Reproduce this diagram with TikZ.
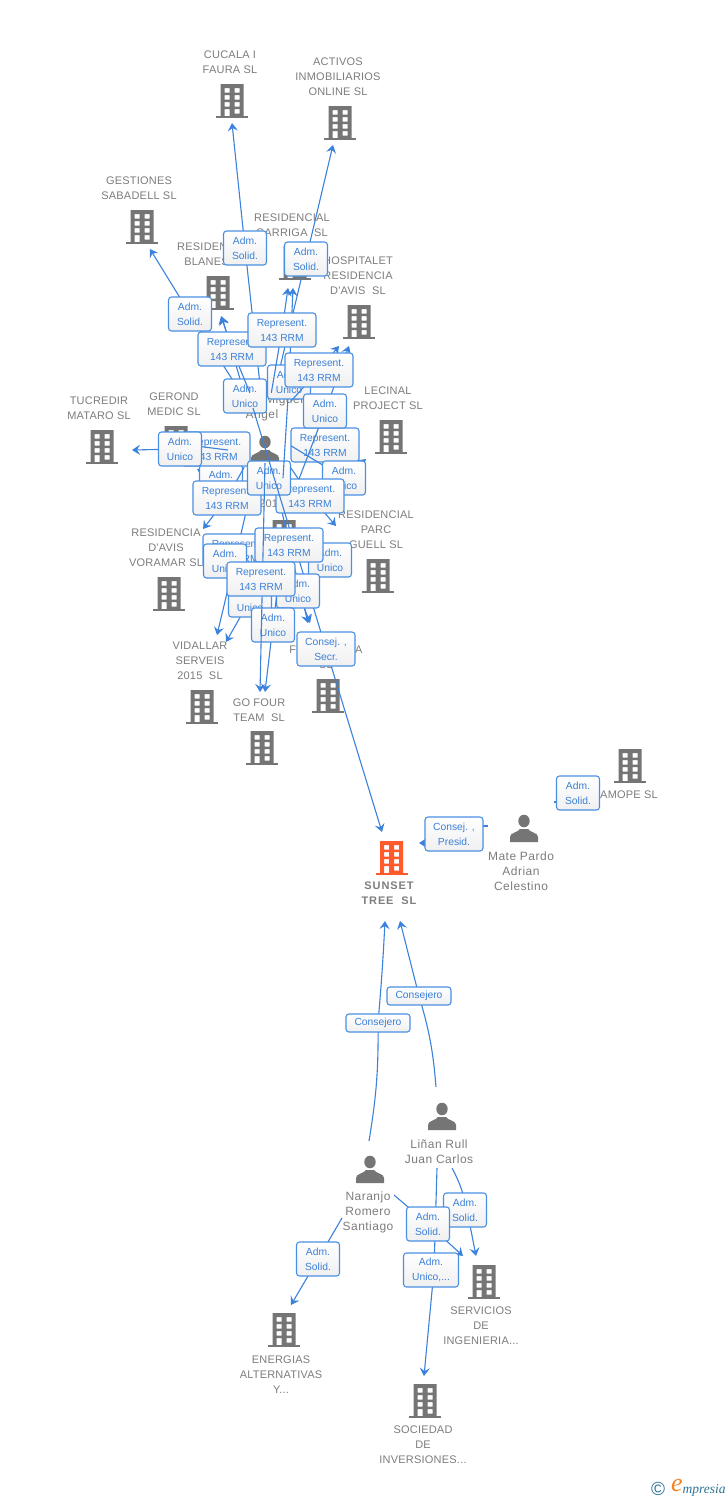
\documentclass[tikz,border=0pt]{standalone}
\usepackage{fontspec}
\usetikzlibrary{arrows.meta}
\setmainfont{Liberation Sans}
\newfontfamily\lblfont{Liberation Sans}[LetterSpace=2]
\newfontfamily\perfont{Liberation Sans}[LetterSpace=4]
\newfontfamily\mainbfont{Liberation Sans}[LetterSpace=8]
\newfontfamily\logofont{Liberation Serif}
\definecolor{icongrey}{HTML}{757575}
\definecolor{txtgrey}{HTML}{7D7D7D}
\definecolor{hot}{HTML}{FF5A2C}
\definecolor{linkblue}{HTML}{3B82DD}
\definecolor{boxblue}{HTML}{4A90E2}
\definecolor{labblue}{HTML}{3A80D8}
\definecolor{logoteal}{HTML}{2F7396}
\definecolor{logoorange}{HTML}{F58220}
\tikzset{
  co/.style={align=center,inner sep=0pt,text=txtgrey,font=\lblfont\fontsize{11}{15}\selectfont},
  pe/.style={align=center,inner sep=0pt,text=txtgrey,font=\perfont\fontsize{12}{15}\selectfont},
  hotlabel/.style={align=center,inner sep=0pt,text=txtgrey,font=\mainbfont\bfseries\fontsize{11}{15}\selectfont},
  conn/.style={draw=linkblue,line width=1.1pt},
  arr/.style={conn,-{Stealth[length=8pt,width=10pt,inset=3pt]}},
  lab/.style={draw=boxblue,line width=1.1pt,rounded corners=3pt,top color=white,bottom color=white!94!black,
    text=labblue,align=center,inner sep=0pt,minimum height=34pt,minimum width=43pt,
    font=\fontsize{10.3}{15}\selectfont},
  labr/.style={lab,minimum width=68pt},
  labc/.style={lab,minimum width=58pt},
  labk/.style={lab,minimum width=64pt,minimum height=18pt},
  labu/.style={lab,minimum width=55pt},
}
\newcommand\bld[3][icongrey]{%
  \begin{scope}[shift={(#2,#3)}]
    \fill[#1,even odd rule]
      (-11.5,-17) rectangle (11.5,15)
      (-7.5,-13) rectangle (-2.5,-8.5) (2.5,-13) rectangle (7.5,-8.5)
      (-7.5,-6) rectangle (-2.5,-1.5) (2.5,-6) rectangle (7.5,-1.5)
      (-7.5,1) rectangle (-2.5,5.5) (2.5,1) rectangle (7.5,5.5)
      (-7.5,8) rectangle (-2.5,15) (2.5,8) rectangle (7.5,12.5);
    \fill[#1] (-16,15) rectangle (16,17);
  \end{scope}}
\newcommand\per[2]{%
  \begin{scope}[shift={(#1,#2)}]
    \fill[icongrey] (0,-8) ellipse (5.7 and 6.3);
    \fill[icongrey] (-14,13) -- (-14,8) .. controls (-14,3.5) and (-6,3.5) .. (-4,0)
      -- (4,0) .. controls (6,3.5) and (14,3.5) .. (14,8) -- (14,13) -- cycle;
  \end{scope}}
% id, box centre, style, text, start, tip
\newcommand\lnk[6]{%
  \coordinate (b#1) at (#2);
  \coordinate (t#1) at (#6);
  \draw[arr] (#5) -- (b#1) -- (t#1);
  \node[#3] (n#1) at (b#1) {#4};}
\newcommand\AS{Adm.\\Solid.}
\newcommand\AU{Adm.\\Unico}
\newcommand\RR{Represent.\\143 RRM}
\begin{document}
\begin{tikzpicture}[x=1pt,y=-1pt]
\useasboundingbox (0,0) rectangle (728,1500);
\fill[white] (0,0) rectangle (728,1500);
% ---- icons and texts
\bld{232}{101}\bld{340}{123}\bld{142}{227}\bld{295}{263}\bld{218}{293}\bld{359}{322}
\bld{391}{437}\bld{102}{447}\bld{176}{443}\bld{169}{594}\bld{378}{576}\bld{202}{707}
\bld{262}{748}\bld{328}{696}\bld{284}{537}\bld{630}{766}\bld{484}{1282}\bld{284}{1330}\bld{425}{1401}
\bld[hot]{391.5}{858}
\per{265}{450}\per{524}{829}\per{442}{1117}\per{370}{1170}
\node[co] (tcucala) at (230,62.5) {CUCALA I\\FAURA SL};
\node[co] (tactivos) at (338,77) {ACTIVOS\\INMOBILIARIOS\\ONLINE SL};
\node[co] (tgest) at (139,188.5) {GESTIONES\\SABADELL SL};
\node[co] (tcarr) at (292,225.5) {RESIDENCIAL\\CARRIGA\ \ SL};
\node[co] (tblan) at (215,254.5) {RESIDENCIAL\\BLANES SL};
\node[co] (thosp) at (358,276) {HOSPITALET\\RESIDENCIA\\D'AVIS\ \ SL};
\node[co] (tlec) at (388,398.5) {LECINAL\\PROJECT SL};
\node[co] (ttuc) at (99,408.5) {TUCREDIR\\MATARO SL};
\node[co] (tger) at (174,404.5) {GEROND\\MEDIC SL};
\node[co] (tvor) at (166,548) {RESIDENCIA\\D'AVIS\\VORAMAR SL};
\node[co] (tpar) at (376,530) {RESIDENCIAL\\PARC\\GUELL SL};
\node[co] (tvid) at (200,661) {VIDALLAR\\SERVEIS\\2015\ \ SL};
\node[co] (tgof) at (259,710.5) {GO FOUR\\TEAM\ \ SL};
\node[co] (tfar) at (326,657.5) {F\hspace{59pt}A\\SL};
\node[co] (tmid) at (282,504) {2015\ \ SL};
\node[co] (tamo) at (629,795) {AMOPE SL};
\node[pe] (tmig) at (262,407.5) {\phantom{Xxxxxx }Miguel\\Angel};
\node[pe] (tmate) at (521,871) {Mate Pardo\\Adrian\\Celestino};
\node[pe] (tlin) at (439,1151.5) {Liñan Rull\\Juan Carlos};
\node[pe] (tnar) at (368,1212) {Naranjo\\Romero\\Santiago};
\node[hotlabel] (tsun) at (389,893.5) {SUNSET\\TREE\ \ SL};
\node[co] (tser) at (481,1326) {SERVICIOS\\DE\\INGENIERIA...};
\node[co] (tene) at (281,1375) {ENERGIAS\\ALTERNATIVAS\\Y...};
\node[co] (tsoc) at (423,1445) {SOCIEDAD\\DE\\INVERSIONES...};
% ---- sources of the connectors
\node[minimum width=52pt,minimum height=74pt,inner sep=0pt] (hub) at (265,430) {};
\node[minimum width=60pt,minimum height=118pt,inner sep=0pt] (mid) at (284,537) {};
\coordinate (midA) at (283,478);
\coordinate (midB) at (299,479);
\coordinate (hubB) at (265,463);
\coordinate (hubL) at (228,450);
\coordinate (longS) at (253,408);
% ---- connectors and their labels, in stacking order
\lnk{a1}{245,248}{lab}{\AS}{hub}{232,123}
\lnk{a2}{306,259}{lab}{\AS}{hub}{333,145}
\lnk{a3}{190,314}{lab}{\AS}{hub}{150,249}
\lnk{u1}{245,396}{lab}{\AU}{hub}{222,317}
\lnk{r1}{232,349}{labr}{\RR}{hub}{221,316}
\coordinate (bu9) at (225,561);
\coordinate (bu10) at (330,560);
\draw[conn] (mid) -- (bu9);
\draw[conn] (mid) -- (bu10);
\lnk{r8}{237,551}{labr}{\RR}{hub}{217,635}
\node[lab] (nu9) at (bu9) {\AU};
\node[lab] (nu10) at (bu10) {\AU};
\lnk{u3}{221,482}{lab}{\AU}{hub}{197,469}
\lnk{r2}{216,449}{labr}{\RR}{hub}{190,446}
\lnk{r3}{227,498}{labr}{\RR}{hub}{203,529}
\coordinate (bu4a) at (180,444);
\coordinate (bu4) at (180,449);
\coordinate (tu4) at (132,450);
\draw[conn] (hubL) -- (bu4a);
\draw[arr] (bu4) -- (tu4);
\node[lab] (nu4) at (bu4) {\AU};
\coordinate (br9) at (289,545);
\draw[conn] (hub) -- (br9);
\lnk{r6}{325,445}{labr}{\RR}{hub}{350,470}
\lnk{u7}{344,478}{lab}{\AU}{hub}{366,459}
\lnk{r7}{310,496}{labr}{\RR}{hub}{336,526}
\coordinate (bu2) at (269,478);
\draw[conn] (hub) -- (bu2);
\node[lab] (nu2) at (bu2) {\AU};
\lnk{u5}{289,382}{lab}{\AU}{midA}{293,288}
\lnk{r4}{282,330}{labr}{\RR}{hub}{288,288}
\lnk{u6}{325,411}{lab}{\AU}{midB}{349,346}
\lnk{r5}{319,370}{labr}{\RR}{hub}{339,346}
\coordinate (tlong) at (382,832);
\coordinate (bs1) at (326,649);
\draw[arr] (longS) -- (bs1) -- (tlong);
\coordinate (tr9) at (308,623);
\draw[arr] (br9) -- (tr9);
\node[labr] (nr9) at (br9) {\RR};
\lnk{u11}{298,591}{lab}{\AU}{mid}{310,623}
\lnk{u12}{250,600}{lab}{\AU}{mid}{226,642}
\lnk{u13}{273,625}{lab}{\AU}{mid}{265,692}
\coordinate (tgo) at (260,692);
\draw[arr] (hubB) -- (tgo);
\node[labr] (nr10) at (261,579) {\RR};
\node[labc] (ns1) at (bs1) {Consej. ,\\Secr.};
% ---- right side
\coordinate (mateS) at (488,826);
\coordinate (bp1) at (470,826);
\coordinate (bp2) at (440,843);
\coordinate (tp) at (419,843);
\draw[conn] (mateS) -- (bp1);
\draw[arr] (bp2) -- (tp);
\node[labc] (np) at (454,834) {Consej. ,\\Presid.};
\coordinate (amS) at (554,802);
\coordinate (bam) at (578,802);
\draw[conn] (amS) -- (bam);
\node[lab] (nam) at (578,793) {\AS};
% ---- lower part
\coordinate (nar1) at (369,1141);
\coordinate (bc1) at (378,1023);
\coordinate (tc1) at (385,921);
\draw[conn] (nar1) to[bend right=5] (bc1);
\draw[arr] (bc1) to[bend right=1] (tc1);
\node[labk] (nc1) at (bc1) {Consejero};
\coordinate (lin1) at (436,1087);
\coordinate (bc2) at (419,996);
\coordinate (tc2) at (400,921);
\draw[conn] (lin1) to[bend right=6] (bc2);
\draw[arr] (bc2) -- (tc2);
\node[labk] (nc2) at (bc2) {Consejero};
\coordinate (lin2) at (452,1168);
\coordinate (bl1) at (467,1210);
\coordinate (tl1) at (476,1256);
\draw[conn] (lin2) to[bend left=8] (bl1);
\draw[arr] (bl1) -- (tl1);
\node[lab] (nl1) at (465,1210) {\AS};
\coordinate (nar2) at (394,1195);
\coordinate (bl2) at (428,1224);
\coordinate (tl2) at (463,1256);
\draw[arr] (nar2) -- (bl2) -- (tl2);
\coordinate (lin3) at (437,1168);
\coordinate (bl3) at (434,1270);
\coordinate (tl3) at (424,1376);
\draw[arr] (lin3) -- (bl3) -- (tl3);
\node[lab] (nl2) at (bl2) {\AS};
\node[labu] (nl3) at (431,1270) {Adm.\\Unico,...};
\coordinate (nar3) at (342,1218);
\coordinate (bl4) at (318,1259);
\coordinate (tl4) at (291,1305);
\draw[arr] (nar3) -- (bl4) -- (tl4);
\node[lab] (nl4) at (bl4) {\AS};
% ---- logo
\node[inner sep=0pt,text=logoteal,font=\fontsize{19}{19}\selectfont] (lg1) at (658,1489) {©};
\node[inner sep=0pt,text=logoorange,font=\logofont\itshape\fontsize{26}{26}\selectfont] (lg2) at (677,1485) {e};
\node[inner sep=0pt,text=logoteal,font=\logofont\itshape\fontsize{13.5}{13}\selectfont] (lg3) at (704,1490) {mpresia};
\end{tikzpicture}
\end{document}
